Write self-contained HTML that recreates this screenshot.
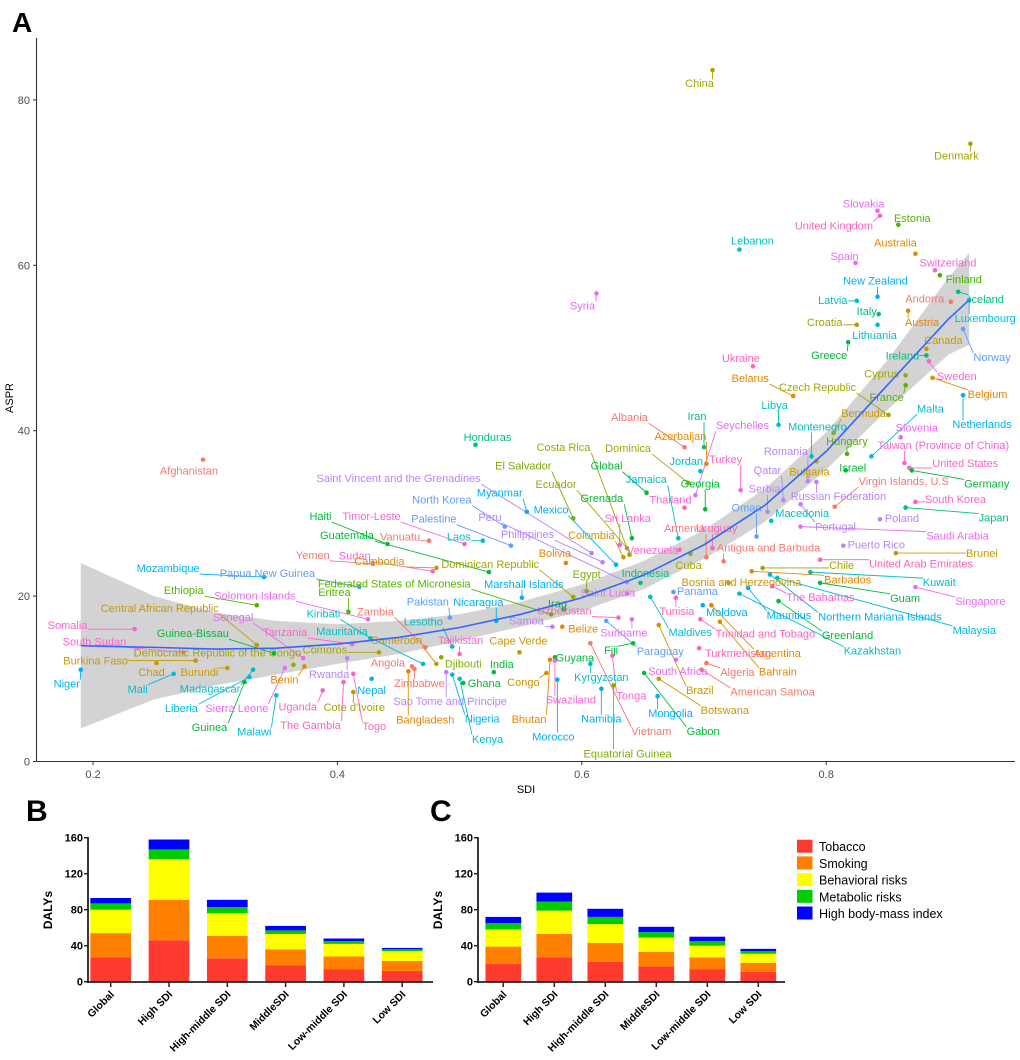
<!DOCTYPE html>
<html><head><meta charset="utf-8"><style>
html,body{margin:0;padding:0;background:#fff;}
svg{display:block;font-family:"Liberation Sans",Arial,sans-serif;}
</style></head><body>
<svg id="fig" width="1020" height="1060" viewBox="0 0 1020 1060" xmlns="http://www.w3.org/2000/svg">
<g id="panelA"></g>
<g id="panelB"></g>
<g id="panelC"></g>
</svg>
<script>
// ===== Panel A data =====
const xTicks = [0.2, 0.4, 0.6, 0.8];
const yTicks = [0, 20, 40, 60, 80];
const points = [
{c:"China",sdi:0.707,aspr:83.6},{c:"Denmark",sdi:0.918,aspr:74.7},{c:"Afghanistan",sdi:0.290,aspr:36.5},
{c:"Syria",sdi:0.612,aspr:56.6},{c:"Lebanon",sdi:0.729,aspr:61.9},{c:"Slovakia",sdi:0.842,aspr:66.6},
{c:"United Kingdom",sdi:0.844,aspr:66.0},{c:"Estonia",sdi:0.859,aspr:64.9},{c:"Australia",sdi:0.873,aspr:61.4},
{c:"Spain",sdi:0.824,aspr:60.3},{c:"Switzerland",sdi:0.889,aspr:59.4},{c:"Finland",sdi:0.893,aspr:58.8},
{c:"New Zealand",sdi:0.842,aspr:56.2},{c:"Latvia",sdi:0.825,aspr:55.7},{c:"Andorra",sdi:0.902,aspr:55.6},
{c:"Iceland",sdi:0.908,aspr:56.8},{c:"Italy",sdi:0.843,aspr:54.1},{c:"Croatia",sdi:0.825,aspr:52.8},
{c:"Austria",sdi:0.867,aspr:54.5},{c:"Luxembourg",sdi:0.917,aspr:55.8},{c:"Lithuania",sdi:0.842,aspr:52.8},
{c:"Canada",sdi:0.882,aspr:49.9},{c:"Norway",sdi:0.912,aspr:52.3},{c:"Greece",sdi:0.818,aspr:50.7},
{c:"Ireland",sdi:0.882,aspr:49.1},{c:"Sweden",sdi:0.884,aspr:48.4},{c:"Ukraine",sdi:0.740,aspr:47.8},
{c:"Belarus",sdi:0.773,aspr:44.2},{c:"Czech Republic",sdi:0.851,aspr:41.9},{c:"Cyprus",sdi:0.865,aspr:46.7},
{c:"France",sdi:0.865,aspr:45.5},{c:"Belgium",sdi:0.887,aspr:46.4},{c:"Netherlands",sdi:0.912,aspr:44.3},
{c:"Malta",sdi:0.837,aspr:36.9},{c:"Bermuda",sdi:0.806,aspr:39.7},{c:"Libya",sdi:0.761,aspr:40.7},
{c:"Iran",sdi:0.700,aspr:38.0},{c:"Albania",sdi:0.684,aspr:38.0},{c:"Azerbaijan",sdi:0.702,aspr:36.0},
{c:"Seychelles",sdi:0.693,aspr:32.2},{c:"Montenegro",sdi:0.788,aspr:36.9},{c:"Jordan",sdi:0.697,aspr:35.1},
{c:"Turkey",sdi:0.730,aspr:32.8},{c:"Dominica",sdi:0.687,aspr:33.7},{c:"Romania",sdi:0.785,aspr:33.9},
{c:"Bulgaria",sdi:0.792,aspr:36.3},{c:"Qatar",sdi:0.765,aspr:31.6},{c:"Russian Federation",sdi:0.792,aspr:33.8},
{c:"Hungary",sdi:0.817,aspr:37.2},{c:"Israel",sdi:0.816,aspr:35.2},{c:"Taiwan (Province of China)",sdi:0.864,aspr:36.1},
{c:"Slovenia",sdi:0.861,aspr:39.2},{c:"United States",sdi:0.868,aspr:35.5},{c:"Germany",sdi:0.870,aspr:35.2},
{c:"Virgin Islands, U.S",sdi:0.807,aspr:30.8},{c:"South Korea",sdi:0.873,aspr:31.4},{c:"Japan",sdi:0.865,aspr:30.7},
{c:"Poland",sdi:0.844,aspr:29.3},{c:"Portugal",sdi:0.779,aspr:31.1},{c:"Saudi Arabia",sdi:0.779,aspr:28.4},
{c:"Puerto Rico",sdi:0.814,aspr:26.1},{c:"Brunei",sdi:0.857,aspr:25.2},{c:"United Arab Emirates",sdi:0.795,aspr:24.4},
{c:"Kuwait",sdi:0.787,aspr:22.9},{c:"Singapore",sdi:0.873,aspr:21.1},{c:"Guam",sdi:0.795,aspr:21.6},
{c:"Malaysia",sdi:0.760,aspr:22.2},{c:"Northern Mariana Islands",sdi:0.754,aspr:22.6},{c:"Barbados",sdi:0.739,aspr:23.0},
{c:"Chile",sdi:0.748,aspr:23.4},{c:"The Bahamas",sdi:0.756,aspr:21.2},{c:"Greenland",sdi:0.761,aspr:19.4},
{c:"Mauritius",sdi:0.736,aspr:21.0},{c:"Kazakhstan",sdi:0.729,aspr:20.3},{c:"Bosnia and Herzegovina",sdi:0.720,aspr:21.6},
{c:"Antigua and Barbuda",sdi:0.716,aspr:24.2},{c:"Uruguay",sdi:0.707,aspr:25.8},{c:"Oman",sdi:0.743,aspr:27.2},
{c:"Macedonia",sdi:0.755,aspr:29.1},{c:"Serbia",sdi:0.752,aspr:30.2},{c:"Armenia",sdi:0.702,aspr:24.7},
{c:"Cuba",sdi:0.689,aspr:25.1},{c:"Venezuela",sdi:0.680,aspr:25.6},{c:"Indonesia",sdi:0.648,aspr:21.6},
{c:"Thailand",sdi:0.684,aspr:30.7},{c:"Georgia",sdi:0.701,aspr:30.5},{c:"Jamaica",sdi:0.679,aspr:27.0},
{c:"Global",sdi:0.653,aspr:32.5},{c:"Costa Rica",sdi:0.639,aspr:25.0},{c:"Grenada",sdi:0.641,aspr:27.0},
{c:"Sri Lanka",sdi:0.631,aspr:26.2},{c:"Colombia",sdi:0.634,aspr:24.7},{c:"Ecuador",sdi:0.637,aspr:25.8},
{c:"El Salvador",sdi:0.593,aspr:29.4},{c:"Mexico",sdi:0.628,aspr:23.8},{c:"Saint Vincent and the Grenadines",sdi:0.608,aspr:25.2},
{c:"Myanmar",sdi:0.555,aspr:30.2},{c:"North Korea",sdi:0.537,aspr:28.4},{c:"Peru",sdi:0.637,aspr:21.7},
{c:"Philippines",sdi:0.617,aspr:24.1},{c:"Palestine",sdi:0.542,aspr:26.1},{c:"Laos",sdi:0.519,aspr:26.7},
{c:"Timor-Leste",sdi:0.504,aspr:26.3},{c:"Haiti",sdi:0.441,aspr:26.3},{c:"Guatemala",sdi:0.524,aspr:22.9},
{c:"Vanuatu",sdi:0.475,aspr:26.7},{c:"Yemen",sdi:0.429,aspr:23.9},{c:"Sudan",sdi:0.478,aspr:23.0},
{c:"Cambodia",sdi:0.481,aspr:23.4},{c:"Dominican Republic",sdi:0.593,aspr:19.9},{c:"Federated States of Micronesia",sdi:0.575,aspr:17.8},
{c:"Bolivia",sdi:0.587,aspr:24.0},{c:"Egypt",sdi:0.604,aspr:20.6},{c:"Saint Lucia",sdi:0.637,aspr:20.3},
{c:"Marshall Islands",sdi:0.551,aspr:19.8},{c:"Iraq",sdi:0.585,aspr:18.4},{c:"Papua New Guinea",sdi:0.418,aspr:21.1},
{c:"Mozambique",sdi:0.340,aspr:22.3},{c:"Ethiopia",sdi:0.334,aspr:18.9},{c:"Solomon Islands",sdi:0.425,aspr:17.2},
{c:"Eritrea",sdi:0.409,aspr:18.1},{c:"Central African Republic",sdi:0.334,aspr:14.1},{c:"Kiribati",sdi:0.427,aspr:14.9},
{c:"Zambia",sdi:0.472,aspr:13.8},{c:"Senegal",sdi:0.372,aspr:12.5},{c:"Somalia",sdi:0.234,aspr:16.0},
{c:"Guinea-Bissau",sdi:0.348,aspr:13.1},{c:"Tanzania",sdi:0.412,aspr:14.2},{c:"Mauritania",sdi:0.470,aspr:11.8},
{c:"Cameroon",sdi:0.481,aspr:11.8},{c:"Tajikistan",sdi:0.500,aspr:13.0},{c:"Lesotho",sdi:0.494,aspr:13.9},
{c:"Pakistan",sdi:0.492,aspr:17.4},{c:"Nicaragua",sdi:0.530,aspr:17.0},{c:"South Sudan",sdi:0.274,aspr:13.2},
{c:"Democratic Republic of the Congo",sdi:0.364,aspr:11.7},{c:"Comoros",sdi:0.434,aspr:13.2},{c:"Burkina Faso",sdi:0.284,aspr:12.2},
{c:"Chad",sdi:0.252,aspr:11.9},{c:"Burundi",sdi:0.310,aspr:11.3},{c:"Niger",sdi:0.190,aspr:11.1},
{c:"Mali",sdi:0.266,aspr:10.6},{c:"Madagascar",sdi:0.331,aspr:11.1},{c:"Liberia",sdi:0.328,aspr:10.2},
{c:"Guinea",sdi:0.324,aspr:9.6},{c:"Sierra Leone",sdi:0.357,aspr:11.3},{c:"Malawi",sdi:0.350,aspr:8.0},
{c:"Benin",sdi:0.373,aspr:11.5},{c:"Rwanda",sdi:0.408,aspr:12.5},{c:"Uganda",sdi:0.388,aspr:8.6},
{c:"The Gambia",sdi:0.405,aspr:9.6},{c:"Cote d'Ivoire",sdi:0.413,aspr:8.4},{c:"Togo",sdi:0.413,aspr:10.6},
{c:"Nepal",sdi:0.428,aspr:10.0},{c:"Angola",sdi:0.461,aspr:11.5},{c:"Zimbabwe",sdi:0.463,aspr:11.2},
{c:"Bangladesh",sdi:0.458,aspr:10.9},{c:"Djibouti",sdi:0.485,aspr:12.6},{c:"Sao Tome and Principe",sdi:0.489,aspr:10.8},
{c:"Nigeria",sdi:0.494,aspr:10.5},{c:"Ghana",sdi:0.503,aspr:9.5},{c:"Kenya",sdi:0.500,aspr:10.0},
{c:"India",sdi:0.528,aspr:10.8},{c:"Cape Verde",sdi:0.549,aspr:13.2},{c:"Samoa",sdi:0.576,aspr:16.3},
{c:"Belize",sdi:0.584,aspr:16.3},{c:"Guyana",sdi:0.578,aspr:12.6},{c:"Congo",sdi:0.571,aspr:10.7},
{c:"Bhutan",sdi:0.574,aspr:12.3},{c:"Swaziland",sdi:0.578,aspr:12.2},{c:"Morocco",sdi:0.580,aspr:9.9},
{c:"Kyrgyzstan",sdi:0.607,aspr:11.8},{c:"Namibia",sdi:0.616,aspr:8.8},{c:"Equatorial Guinea",sdi:0.626,aspr:9.2},
{c:"Vietnam",sdi:0.607,aspr:14.3},{c:"Tonga",sdi:0.625,aspr:12.8},{c:"Fiji",sdi:0.642,aspr:14.3},
{c:"Paraguay",sdi:0.620,aspr:17.0},{c:"Uzbekistan",sdi:0.630,aspr:17.4},{c:"Suriname",sdi:0.641,aspr:17.2},
{c:"Tunisia",sdi:0.677,aspr:19.8},{c:"Maldives",sdi:0.656,aspr:19.9},{c:"South Africa",sdi:0.677,aspr:12.3},
{c:"Brazil",sdi:0.663,aspr:16.5},{c:"Botswana",sdi:0.663,aspr:10.0},{c:"Mongolia",sdi:0.662,aspr:7.9},
{c:"Gabon",sdi:0.651,aspr:10.7},{c:"Trinidad and Tobago",sdi:0.697,aspr:17.2},{c:"Turkmenistan",sdi:0.696,aspr:13.7},
{c:"Algeria",sdi:0.702,aspr:11.9},{c:"American Samoa",sdi:0.698,aspr:11.1},{c:"Bahrain",sdi:0.713,aspr:16.9},
{c:"Argentina",sdi:0.706,aspr:18.9},{c:"Moldova",sdi:0.699,aspr:18.9},{c:"Panama",sdi:0.675,aspr:20.5},
{c:"Honduras",sdi:0.513,aspr:38.3}
];
// smooth (loess) fit values
const smoothSdi = [0.19,0.25,0.30,0.35,0.40,0.45,0.50,0.55,0.60,0.65,0.70,0.75,0.80,0.85,0.90,0.917];
const smoothFit = [14.0,13.8,13.6,13.7,14.2,15.0,16.2,17.8,19.8,22.5,26.2,31.0,37.5,45.5,53.5,55.8];
const smoothLo  = [4.0,7.5,9.2,10.5,11.8,13.0,14.6,16.3,18.2,20.8,24.5,29.0,35.3,42.5,49.2,50.4];
const smoothHi  = [24.0,20.0,18.0,17.0,16.6,17.0,17.8,19.3,21.4,24.2,28.0,33.0,39.8,48.5,58.5,61.5];

// label placement (layout, not data): [color, dx, dy] keyed by country
const labelStyle = {
"China":["#A3A500",-13,13],"Denmark":["#A3A500",-14,12],"Afghanistan":["#F8766D",-14,11],"Syria":["#E76BF3",-14,12],
"Lebanon":["#00BFC4",13,-9],"Slovakia":["#E76BF3",-14,-7],"United Kingdom":["#FF62BC",-46,10],"Estonia":["#53B400",14,-7],
"Australia":["#E58700",-20,-11],"Spain":["#E76BF3",-11,-7],"Switzerland":["#FD61D1",13,-8],"Finland":["#39B600",24,4],
"New Zealand":["#00B0F6",-2,-16],"Latvia":["#00BFC4",-24,-1],"Andorra":["#F8766D",-26,-3],"Iceland":["#00BF7D",28,7],
"Italy":["#00BF7D",-12,-3],"Croatia":["#A3A500",-32,-3],"Austria":["#E58700",14,11],"Luxembourg":["#00BCD8",16,18],
"Lithuania":["#00BFC4",-3,10],"Canada":["#C99800",17,-9],"Norway":["#619CFF",29,28],"Greece":["#00BA38",-19,13],
"Ireland":["#00BF7D",-24,0],"Sweden":["#FD61D1",28,15],"Ukraine":["#FF62BC",-12,-8],"Belarus":["#E58700",-43,-18],
"Czech Republic":["#A3A500",-71,-28],"Cyprus":["#A3A500",-24,-2],"France":["#53B400",-19,12],"Belgium":["#E58700",55,16],
"Netherlands":["#00B0F6",19,29],"Malta":["#00BCD8",59,-48],"Bermuda":["#C99800",30,-20],"Libya":["#00BFC4",-4,-20],
"Iran":["#00BF7D",-7,-31],"Albania":["#F8766D",-55,-30],"Azerbaijan":["#E58700",-26,-28],"Seychelles":["#E76BF3",47,-70],
"Montenegro":["#00BFC4",6,-30],"Jordan":["#00BFC4",-14,-10],"Turkey":["#FF62BC",-15,-31],"Dominica":["#A3A500",-60,-35],
"Romania":["#B983FF",-22,-30],"Bulgaria":["#C99800",-7,10],"Qatar":["#B983FF",-16,-30],"Russian Federation":["#B983FF",22,14],
"Hungary":["#53B400",0,-13],"Israel":["#00BA38",7,-3],"Taiwan (Province of China)":["#FD61D1",39,-18],"Slovenia":["#E76BF3",16,-10],
"United States":["#FF62BC",56,-5],"Germany":["#00BA38",75,13],"Virgin Islands, U.S":["#F8766D",69,-26],"South Korea":["#FD61D1",40,-3],
"Japan":["#00BF7D",88,10],"Poland":["#B983FF",22,-1],"Portugal":["#B983FF",35,22],"Saudi Arabia":["#E76BF3",157,9],
"Puerto Rico":["#B983FF",33,-1],"Brunei":["#C99800",86,0],"United Arab Emirates":["#FF62BC",101,4],"Kuwait":["#00BFC4",129,10],
"Singapore":["#E76BF3",65,14],"Guam":["#00BA38",85,15],"Malaysia":["#00BCD8",197,52],"Northern Mariana Islands":["#00B0F6",110,42],
"Barbados":["#E58700",96,8],"Chile":["#A3A500",79,-3],"The Bahamas":["#FD61D1",48,11],"Greenland":["#00BA38",69,34],
"Mauritius":["#00B0F6",41,27],"Kazakhstan":["#00BFC4",133,57],"Bosnia and Herzegovina":["#C99800",13,-1],"Antigua and Barbuda":["#F8766D",45,-14],
"Uruguay":["#FF62BC",4,-20],"Oman":["#619CFF",-10,-29],"Macedonia":["#00BFC4",31,-8],"Serbia":["#B983FF",-3,-23],
"Armenia":["#F8766D",-22,-29],"Cuba":["#A3A500",-2,11],"Venezuela":["#FD61D1",-27,0],"Indonesia":["#00BF7D",5,-10],
"Thailand":["#FD61D1",-14,-8],"Georgia":["#00BA38",-5,-26],"Jamaica":["#00BFC4",-32,-59],"Global":["#00BA38",-40,-27],
"Costa Rica":["#A3A500",-66,-108],"Grenada":["#00BA38",-30,-40],"Sri Lanka":["#FD61D1",8,-27],"Colombia":["#C99800",-32,-22],
"Ecuador":["#A3A500",-71,-64],"El Salvador":["#7CAE00",-50,-53],"Mexico":["#00B0F6",-65,-55],"Saint Vincent and the Grenadines":["#B983FF",-193,-75],
"Myanmar":["#00B0F6",-27,-19],"North Korea":["#619CFF",-63,-27],"Peru":["#B983FF",-137,-65],"Philippines":["#B983FF",-75,-28],
"Palestine":["#619CFF",-77,-27],"Laos":["#00BFC4",-24,-4],"Timor-Leste":["#FD61D1",-93,-28],"Haiti":["#00BA38",-67,-28],
"Guatemala":["#00BA38",-142,-37],"Vanuatu":["#F8766D",-29,-4],"Yemen":["#F8766D",-60,-9],"Sudan":["#FD61D1",-78,-16],
"Cambodia":["#C99800",-57,-7],"Dominican Republic":["#A3A500",-83,-33],"Federated States of Micronesia":["#53B400",-157,-31],
"Bolivia":["#E58700",-11,-10],"Egypt":["#7CAE00",0,-17],"Saint Lucia":["#E76BF3",-19,-1],"Marshall Islands":["#00B0F6",2,-14],
"Iraq":["#00BA38",-6,-6],"Papua New Guinea":["#619CFF",-92,-14],"Mozambique":["#00B0F6",-96,-9],"Ethiopia":["#53B400",-73,-15],
"Solomon Islands":["#E76BF3",-113,-24],"Eritrea":["#53B400",-14,-20],"Central African Republic":["#C99800",-97,-37],"Kiribati":["#00BFC4",-47,-25],
"Zambia":["#F8766D",-50,-36],"Senegal":["#E76BF3",-70,-41],"Somalia":["#FD61D1",-67,-4],"Guinea-Bissau":["#00BA38",-81,-20],
"Tanzania":["#FD61D1",-67,-12],"Mauritania":["#00BFC4",-81,-33],"Cameroon":["#C99800",-40,-24],"Tajikistan":["#FD61D1",1,-14],
"Lesotho":["#00BFC4",-29,-25],"Pakistan":["#619CFF",-22,-16],"Nicaragua":["#00B0F6",-18,-19],"South Sudan":["#FD61D1",-89,-11],
"Democratic Republic of the Congo":["#A3A500",-76,-12],"Comoros":["#A3A500",-54,-3],"Burkina Faso":["#C99800",-100,0],"Chad":["#C99800",-5,9],
"Burundi":["#C99800",-28,4],"Niger":["#00B0F6",-14,14],"Mali":["#00BCD8",-36,15],"Madagascar":["#00BFC4",-43,19],
"Liberia":["#00BCD8",-68,31],"Guinea":["#00BA38",-35,45],"Sierra Leone":["#E76BF3",-48,40],"Malawi":["#00BCD8",-22,36],
"Benin":["#E58700",-20,13],"Rwanda":["#B983FF",-18,16],"Uganda":["#FF62BC",-25,16],"The Gambia":["#FF62BC",-33,43],
"Cote d'Ivoire":["#A3A500",1,15],"Togo":["#FF62BC",21,52],"Nepal":["#00B0F6",0,11],"Angola":["#F8766D",-24,-4],
"Zimbabwe":["#F8766D",5,14],"Bangladesh":["#E58700",17,48],"Djibouti":["#7CAE00",22,6],"Sao Tome and Principe":["#B983FF",4,29],
"Nigeria":["#00B0F6",30,44],"Ghana":["#00BA38",21,0],"Kenya":["#00BFC4",28,60],"India":["#00BA38",8,-8],
"Cape Verde":["#C99800",-1,-12],"Samoa":["#B983FF",-26,-6],"Belize":["#E58700",21,2],"Guyana":["#00BA38",20,0],
"Congo":["#C99800",-23,9],"Bhutan":["#E58700",-21,59],"Swaziland":["#FD61D1",16,39],"Morocco":["#00B0F6",-4,57],
"Kyrgyzstan":["#00BFC4",11,13],"Namibia":["#00B0F6",0,30],"Equatorial Guinea":["#7CAE00",14,68],"Vietnam":["#F8766D",61,88],
"Tonga":["#FD61D1",19,40],"Fiji":["#00BA38",-22,7],"Paraguay":["#619CFF",54,30],"Uzbekistan":["#FF62BC",-54,-7],
"Suriname":["#E76BF3",-8,13],"Tunisia":["#FF62BC",1,13],"Maldives":["#00BCD8",40,35],"South Africa":["#E76BF3",2,11],
"Brazil":["#C99800",41,65],"Botswana":["#C99800",66,31],"Mongolia":["#00B0F6",13,17],"Gabon":["#00BA38",59,58],
"Trinidad and Tobago":["#FF62BC",65,14],"Turkmenistan":["#FF62BC",39,5],"Algeria":["#F8766D",31,9],"American Samoa":["#F8766D",71,22],
"Bahrain":["#E58700",58,50],"Argentina":["#E58700",66,48],"Moldova":["#00B0F6",24,7],"Panama":["#619CFF",24,-1],
"Honduras":["#00BF7D",12,-8]
};

// ===== Panel B / C data =====
const barCategories = ["Global","High SDI","High-middle SDI","MiddleSDI","Low-middle SDI","Low SDI"];
const riskNames = ["Tobacco","Smoking","Behavioral risks","Metabolic risks","High body-mass index"];
const bTobacco = [27,46,26,18,14,12];
const bSmoking = [27,45,25,18,14,11];
const bBehavioral = [26,45,25,17,14,11];
const bMetabolic = [7,11,7,4,3,2];
const bBmi = [6,11,8,5,3,1.5];
const cTobacco = [20,27,22,17,14,11];
const cSmoking = [19,26,21,16,13,10];
const cBehavioral = [19,26,21,16,13,10];
const cMetabolic = [7,10,8,6,5,3];
const cBmi = [7,10,9,6,5,2.5];
const barTicks = [0,40,80,120,160];

const NS = "http://www.w3.org/2000/svg";
function mk(parent, tag, attrs, text){
  const e = document.createElementNS(NS, tag);
  for (const k in attrs) e.setAttribute(k, attrs[k]);
  if (text !== undefined) e.textContent = text;
  parent.appendChild(e);
  return e;
}

// ===== Panel A =====
(function(){
  const g = document.getElementById('panelA');
  const X = v => 93 + (v - 0.2) * 1222;
  const Y = v => 761.5 - v * 8.27;
  let t = mk(g,'text',{x:12,y:32,'font-size':28,'font-weight':'bold',fill:'#000'},'A');
  
  
  // ribbon
  let d = '';
  smoothSdi.forEach((s,i)=>{ d += (i?'L':'M') + X(s) + ',' + Y(smoothHi[i]); });
  for (let i = smoothSdi.length-1; i>=0; i--) d += 'L' + X(smoothSdi[i]) + ',' + Y(smoothLo[i]);
  let rib = mk(g,'path',{d:d+'Z',fill:'#c8c8c8','fill-opacity':0.8,stroke:'none'});
  
  
  // leader lines group then labels
  const lineG = mk(g,'g',{});
  
  
  const ptG = mk(g,'g',{});
  
  
  const lblG = mk(g,'g',{'font-size':11});
  
  
  // smooth line
  let ld = '';
  smoothSdi.forEach((s,i)=>{ ld += (i?'L':'M') + X(s) + ',' + Y(smoothFit[i]); });
  let sl = mk(g,'path',{d:ld,fill:'none',stroke:'#3366FF','stroke-width':1.6});
  
  
  points.forEach(p=>{
    const st = labelStyle[p.c] || ['#888',0,-10];
    const px = X(p.sdi), py = Y(p.aspr);
    const c = mk(ptG,'circle',{cx:px,cy:py,r:2.3,fill:st[0]});
    
    
    const tx = mk(lblG,'text',{x:px+st[1],y:py+st[2]+4,'text-anchor':'middle',fill:st[0]},p.c);
    
    
    const b = tx.getBBox();
    const nx = Math.max(b.x, Math.min(px, b.x+b.width));
    const ny = Math.max(b.y+1, Math.min(py, b.y+b.height-1));
    if (Math.hypot(nx-px, ny-py) > 7) {
      const ln = mk(lineG,'line',{x1:px,y1:py,x2:nx,y2:ny,stroke:st[0],'stroke-width':0.9});
      
      
    }
  });
  // axes
  const ax = mk(g,'g',{});
  
  
  mk(ax,'line',{x1:36.5,y1:38,x2:36.5,y2:762,stroke:'#333','stroke-width':1.1});
  mk(ax,'line',{x1:36,y1:761.5,x2:1015,y2:761.5,stroke:'#333','stroke-width':1.1});
  yTicks.forEach(v=>{
    mk(ax,'line',{x1:33,y1:Y(v),x2:36.5,y2:Y(v),stroke:'#333','stroke-width':1});
    const tl = mk(ax,'text',{x:30,y:Y(v)+4,'text-anchor':'end','font-size':11,fill:'#4d4d4d'},String(v));
    
    
  });
  xTicks.forEach(v=>{
    mk(ax,'line',{x1:X(v),y1:761.5,x2:X(v),y2:765,stroke:'#333','stroke-width':1});
    const tl = mk(ax,'text',{x:X(v),y:778,'text-anchor':'middle','font-size':11,fill:'#4d4d4d'},v.toFixed(1));
    
    
  });
  const xt = mk(ax,'text',{x:526,y:793,'text-anchor':'middle','font-size':11,fill:'#000'},'SDI');
  
  
  const yt = mk(ax,'text',{x:0,y:0,'text-anchor':'middle','font-size':11,fill:'#000',transform:'translate(13,398) rotate(-90)'},'ASPR');
  
  
})();

// ===== Bar panels =====
const barColors = ["#FF3A30","#FF8000","#FFFF00","#00CC00","#0000FF"];
function barPanel(gid, letter, letterX, axisX, axisEnd, firstCenter, step, barW, series){
  const g = document.getElementById(gid);
  const Y = v => 981.7 - v * 0.9;
  const lt = mk(g,'text',{x:letterX,y:821,'font-size':30,'font-weight':'bold',fill:'#000'},letter);
  
  
  barCategories.forEach((cat,i)=>{
    const cx = firstCenter + i*step;
    let acc = 0;
    series.forEach((s,k)=>{
      const v = s[i];
      const r = mk(g,'rect',{x:cx-barW/2,y:Y(acc+v),width:barW,height:Y(acc)-Y(acc+v),fill:barColors[k]});
      
      
      acc += v;
    });
    mk(g,'line',{x1:cx,y1:982,x2:cx,y2:987,stroke:'#222','stroke-width':1.5});
    const tl = mk(g,'text',{x:0,y:0,'text-anchor':'end','font-size':10.5,'font-weight':'bold',fill:'#000',transform:'translate('+(cx+4)+',995) rotate(-45)'},cat);
    
    
  });
  mk(g,'line',{x1:axisX,y1:837,x2:axisX,y2:983,stroke:'#222','stroke-width':1.8});
  mk(g,'line',{x1:axisX-1,y1:982,x2:axisEnd,y2:982,stroke:'#222','stroke-width':1.8});
  barTicks.forEach(v=>{
    mk(g,'line',{x1:axisX-4,y1:Y(v),x2:axisX,y2:Y(v),stroke:'#222','stroke-width':1.5});
    const tl = mk(g,'text',{x:axisX-5,y:Y(v)+4,'text-anchor':'end','font-size':11,'font-weight':'bold',fill:'#000'},String(v));
    
    
  });
  const yt = mk(g,'text',{x:0,y:0,'text-anchor':'middle','font-size':12,'font-weight':'bold',fill:'#000',transform:'translate('+(axisX-36)+',910) rotate(-90)'},'DALYs');
  
  
}
barPanel('panelB','B',26,88,433,110.7,58.3,40.7,[bTobacco,bSmoking,bBehavioral,bMetabolic,bBmi]);
barPanel('panelC','C',430,478,785,503.3,51,35.7,[cTobacco,cSmoking,cBehavioral,cMetabolic,cBmi]);

// legend
(function(){
  const g = document.getElementById('panelC');
  const lg = mk(g,'g',{});
  
  
  riskNames.forEach((n,k)=>{
    const y = 846.7 + k*16.7;
    const it = mk(lg,'g',{});
    
    
    mk(it,'rect',{x:797,y:y-7,width:15.5,height:13,fill:barColors[k]});
    mk(it,'text',{x:819,y:y+4.5,'font-size':12.5,fill:'#000'},n);
  });
})();
</script>
</body></html>
